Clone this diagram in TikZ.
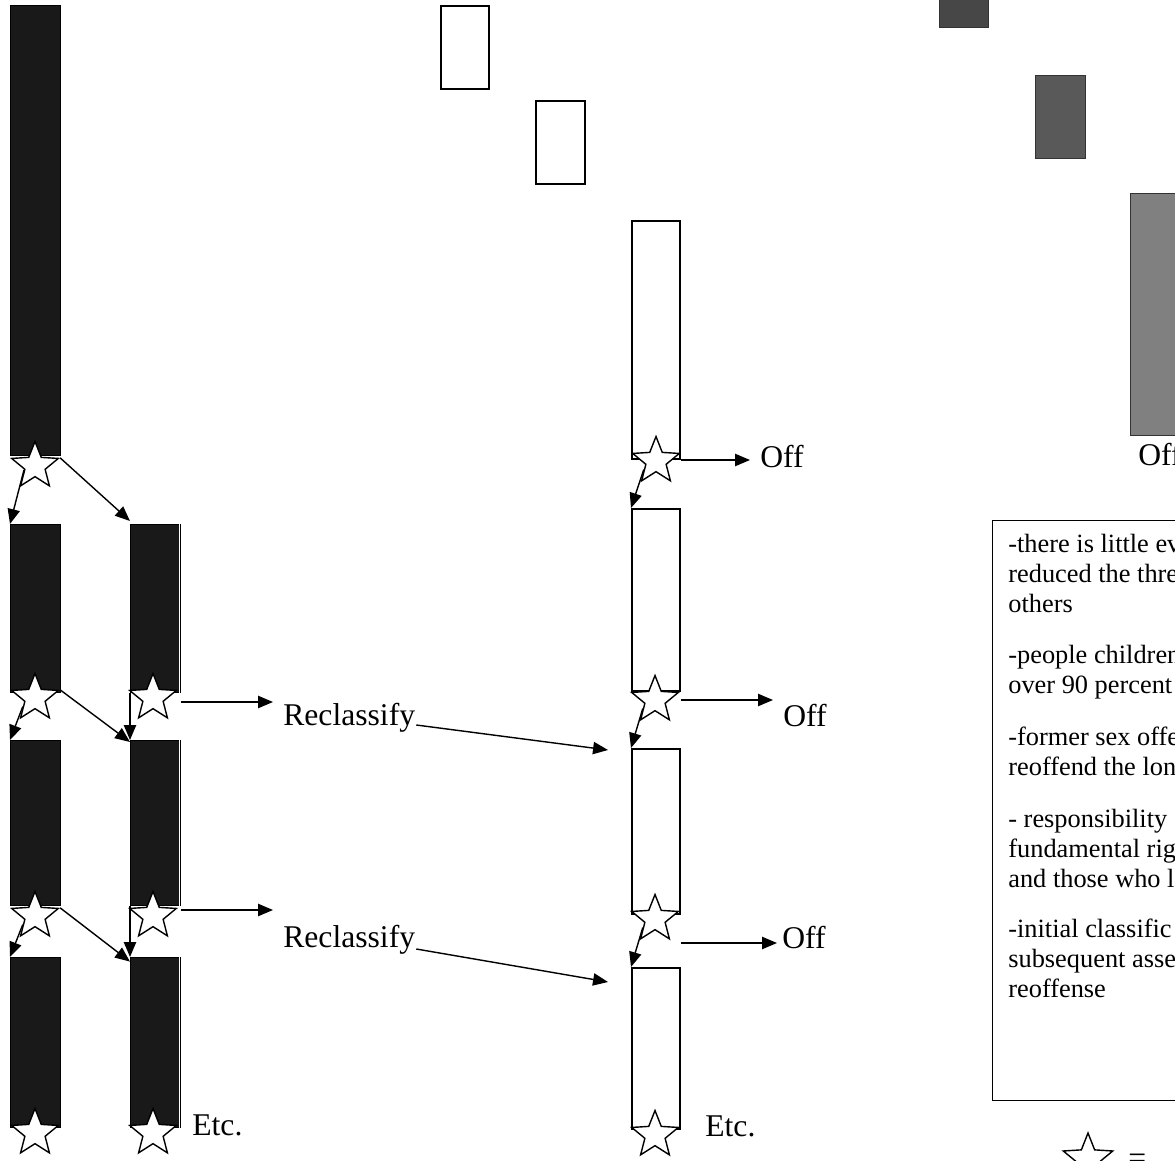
\documentclass[tikz,border=0pt]{standalone}
\usepackage{fontspec}
\setmainfont{Liberation Serif}
\usetikzlibrary{arrows.meta,shapes.geometric}

\begin{document}
\begin{tikzpicture}[scale=0.2]
\tikzstyle{every node}+=[inner sep=0pt]
\tikzset{
  bar/.style={draw=black, fill=black!90, minimum width=1cm, anchor=north west},
  box/.style={draw=black, line width=0.9pt, fill=white, minimum width=0.96cm, anchor=north west},
  greybox/.style={draw=black!80, fill=#1, minimum width=0.98cm, anchor=north west},
  starmark/.style={star, star points=5, star point ratio=2.3, draw=black, line width=0.8pt, fill=white, minimum size=0.98cm},
  arr/.style={-{Triangle[length=8.5pt,width=7pt]}, line width=0.8pt},
  lbl/.style={font=\fontsize{18}{21}\selectfont, anchor=base west},
  note/.style={font=\fontsize{15}{17}\selectfont, anchor=north west, align=left}
}
\useasboundingbox (0,0) rectangle (117.5,-116.0);
% left column
\node[bar, minimum height=9cm] (b0) at (1.0,-0.5) {};
\node[bar, minimum height=3.36cm] (l2) at (1.0,-52.4) {};
\node[bar, minimum height=3.36cm] (r2) at (13.0,-52.4) {};
\node[bar, minimum height=3.3cm] (l3) at (1.0,-74.0) {};
\node[bar, minimum height=3.3cm] (r3) at (13.0,-74.0) {};
\node[bar, minimum height=3.4cm] (l4) at (1.0,-95.7) {};
\node[bar, minimum height=3.4cm] (r4) at (13.0,-95.7) {};
\foreach \n in {r2,r3,r4}
  \draw[white, line width=0.5pt] ([xshift=-0.16cm]\n.north east) -- ([xshift=-0.16cm]\n.south east);
\node[starmark] (s0) at (3.5,-46.6) {};
\node[starmark] (s2l) at (3.5,-69.8) {};
\node[starmark] (s2r) at (15.3,-69.8) {};
\node[starmark] (s3l) at (3.5,-91.6) {};
\node[starmark] (s3r) at (15.3,-91.6) {};
\node[starmark] (s4l) at (3.5,-113.3) {};
\node[starmark] (s4r) at (15.3,-113.3) {};
% middle column
\node[box, minimum height=1.66cm] (t1) at (44.0,-0.5) {};
\node[box, minimum height=1.66cm, minimum width=0.98cm] (t2) at (53.5,-10.0) {};
\node[box, minimum height=4.76cm] (m1) at (63.1,-22.0) {};
\node[box, minimum height=3.64cm] (m2) at (63.1,-50.8) {};
\node[box, minimum height=3.3cm] (m3) at (63.1,-74.8) {};
\node[box, minimum height=3.22cm] (m4) at (63.1,-96.7) {};
\node[starmark] (ms1) at (65.6,-46.1) {};
\node[starmark] (ms2) at (65.5,-70.0) {};
\node[starmark] (ms3) at (65.5,-91.9) {};
\node[starmark] (ms4) at (65.5,-113.5) {};
% right column
\node[greybox=black!72, minimum height=0.62cm] (g1) at (93.9,0.4) {};
\node[greybox=black!65, minimum height=1.66cm, minimum width=1cm] (g2) at (103.5,-7.5) {};
\node[greybox=black!50, minimum height=4.84cm, minimum width=1.2cm] (g3) at (113.0,-19.3) {};
\node[draw=black, line width=0.8pt, minimum width=4.4cm, minimum height=11.6cm, anchor=north west] (tb) at (99.2,-52.0) {};
% labels
\node[lbl] (off1) at (76.0,-46.7) {Off};
\node[lbl] (off2) at (78.3,-72.6) {Off};
\node[lbl] (off3) at (78.2,-94.8) {Off};
\node[lbl] (off4) at (113.8,-46.5) {Off};
\node[lbl] (rc1) at (28.3,-72.5) {Reclassify};
\node[lbl] (rc2) at (28.3,-94.7) {Reclassify};
\node[lbl] (etc1) at (19.2,-113.5) {Etc.};
\node[lbl] (etc2) at (70.5,-113.6) {Etc.};
\node[note] (p1) at (100.8,-53.4) {-there is little ev\\reduced the thre\\others};
\node[note] (p2) at (100.8,-64.5) {-people children\\over 90 percent};
\node[note] (p3) at (100.8,-72.7) {-former sex offe\\reoffend the lon};
\node[note] (p4) at (100.8,-80.9) {- responsibility\\fundamental rig\\and those who l};
\node[note] (p5) at (100.8,-91.9) {-initial classific\\subsequent asse\\reoffense};
\node[starmark, minimum size=1.04cm] (key) at (108.8,-115.9) {};
\node[lbl] (eq) at (112.8,-116.8) {=};
% arrow ends
\coordinate (k0) at (75.0,-46.0);
\coordinate (k1) at (27.3,-70.2);
\coordinate (k2) at (27.3,-91.0);
\coordinate (k3) at (60.8,-75.0);
\coordinate (k4) at (60.8,-98.2);
\coordinate (k5) at (77.3,-70.0);
\coordinate (k6) at (77.7,-94.3);
% arrows, left column
\draw[arr] (s0.200) -- (l2.north west);
\draw[arr] (s0.18) -- ([yshift=0.3cm]r2.north west);
\draw[arr] (s2l.215) -- (l3.north west);
\draw[arr] (s2l.18) -- ([yshift=-0.2cm]r3.north west);
\draw[arr] (r2.south west) -- (r3.north west);
\draw[arr] (s3l.215) -- (l4.north west);
\draw[arr] (s3l.18) -- ([yshift=-0.46cm]r4.north west);
\draw[arr] (r3.south west) -- (r4.north west);
\draw[arr] (r2.south east |- k1) -- (k1);
\draw[arr] (r3.south east |- k2) -- (k2);
% arrows, reclassify
\draw[arr] ([xshift=0.08cm]rc1.base east) -- (k3);
\draw[arr] ([xshift=0.08cm,yshift=-0.2cm]rc2.base east) -- (k4);
% arrows, middle column
\draw[arr] (ms1.215) -- (m2.north west);
\draw[arr] (ms2.215) -- (m3.north west);
\draw[arr] (ms3.215) -- (m4.north west);
\draw[arr] (m1.east |- k0) -- (k0);
\draw[arr] (m2.east |- k5) -- (k5);
\draw[arr] (m3.east |- k6) -- (k6);
\end{tikzpicture}
\end{document}
